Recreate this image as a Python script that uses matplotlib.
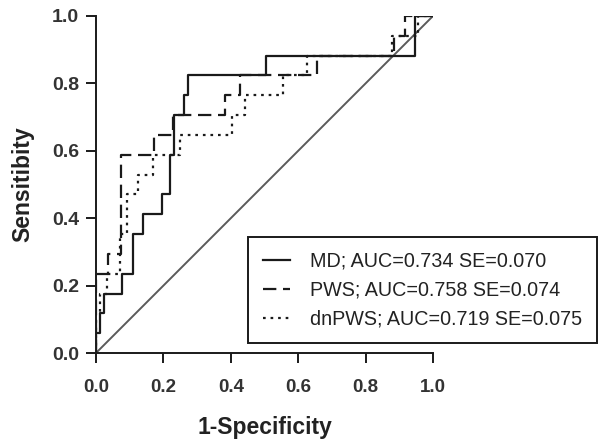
import matplotlib
matplotlib.use("Agg")
import matplotlib.pyplot as plt

plt.rcParams["font.family"] = ["Liberation Sans", "DejaVu Sans"]

# ROC step vertices (1-specificity, sensitivity)
md_fpr = [0, 0, 0.012, 0.012, 0.024, 0.024, 0.077, 0.077, 0.110, 0.110, 0.139, 0.139,
          0.196, 0.196, 0.220, 0.220, 0.231, 0.231, 0.261, 0.261, 0.273, 0.273,
          0.504, 0.504, 0.947, 0.947, 1.0]
md_tpr = [0, 0.059, 0.059, 0.118, 0.118, 0.176, 0.176, 0.235, 0.235, 0.353, 0.353, 0.412,
          0.412, 0.471, 0.471, 0.588, 0.588, 0.706, 0.706, 0.765, 0.765, 0.824,
          0.824, 0.882, 0.882, 1.0, 1.0]

pws_fpr = [0, 0, 0.036, 0.036, 0.074, 0.074, 0.172, 0.172, 0.228, 0.228, 0.383, 0.383,
           0.427, 0.427, 0.656, 0.656, 0.884, 0.884, 0.917, 0.917, 1.0]
pws_tpr = [0, 0.235, 0.235, 0.294, 0.294, 0.588, 0.588, 0.647, 0.647, 0.706, 0.706, 0.765,
           0.765, 0.824, 0.824, 0.882, 0.882, 0.941, 0.941, 1.0, 1.0]

dnpws_fpr = [0, 0, 0.012, 0.012, 0.033, 0.033, 0.071, 0.071, 0.092, 0.092, 0.125, 0.125,
             0.169, 0.169, 0.249, 0.249, 0.404, 0.404, 0.442, 0.442, 0.555, 0.555,
             0.626, 0.626, 0.878, 0.878, 0.955, 0.955, 1.0]
dnpws_tpr = [0, 0.118, 0.118, 0.176, 0.176, 0.235, 0.235, 0.353, 0.353, 0.471, 0.471, 0.529,
             0.529, 0.588, 0.588, 0.647, 0.647, 0.706, 0.706, 0.765, 0.765, 0.824,
             0.824, 0.882, 0.882, 0.941, 0.941, 1.0, 1.0]

labels = ["MD; AUC=0.734 SE=0.070",
          "PWS; AUC=0.758 SE=0.074",
          "dnPWS; AUC=0.719 SE=0.075"]
ticks = [0.0, 0.2, 0.4, 0.6, 0.8, 1.0]
tick_labels = ["0.0", "0.2", "0.4", "0.6", "0.8", "1.0"]

W, H = 602, 444
fig = plt.figure(figsize=(W / 100, H / 100), dpi=100)
ax = fig.add_axes([96 / W, 1 - 353 / H, 337 / W, 337 / H])

ink = "#1a1a1a"
ax.plot([0, 1], [0, 1], color="#5a5a5a", lw=1.4, zorder=1)
h1, = ax.plot(md_fpr, md_tpr, color=ink, lw=1.6, label=labels[0], zorder=3)
h2, = ax.plot(pws_fpr, pws_tpr, color=ink, lw=1.6, linestyle=(0, (6, 3)),
              label=labels[1], zorder=3)
h3, = ax.plot(dnpws_fpr, dnpws_tpr, color=ink, lw=1.6, linestyle=(0, (1.2, 2.2)),
              label=labels[2], zorder=3)

ax.set_xlim(0, 1)
ax.set_ylim(0, 1)
ax.spines["top"].set_visible(False)
ax.spines["right"].set_visible(False)
for s in ("left", "bottom"):
    ax.spines[s].set_linewidth(1.4)
    ax.spines[s].set_color(ink)
ax.set_xticks(ticks)
ax.set_yticks(ticks)
ax.set_xticklabels(tick_labels, fontweight="bold", fontsize=13.5, color="#333333")
ax.set_yticklabels(tick_labels, fontweight="bold", fontsize=14, color="#333333")
ax.tick_params(direction="out", length=7, width=1.4, color=ink)
ax.tick_params(axis="x", pad=12)
ax.tick_params(axis="y", pad=5)

ax.set_xlabel("1-Specificity", fontweight="bold", fontsize=16.5, color="#222222",
              labelpad=14)
ax.set_ylabel("Sensitibity", fontweight="bold", fontsize=16.5, color="#222222",
              labelpad=13)

leg = fig.legend(handles=[h1, h2, h3], loc="upper left",
                 bbox_to_anchor=(248 / W, 1 - 237 / H), fontsize=14.2,
                 frameon=True, fancybox=False, edgecolor=ink, framealpha=1,
                 handlelength=1.4, handletextpad=1.0, borderpad=0.75,
                 labelspacing=0.5, borderaxespad=0)
leg.get_frame().set_linewidth(1.4)
for t in leg.get_texts():
    t.set_color("#222222")

fig.savefig("out.png", dpi=100)
